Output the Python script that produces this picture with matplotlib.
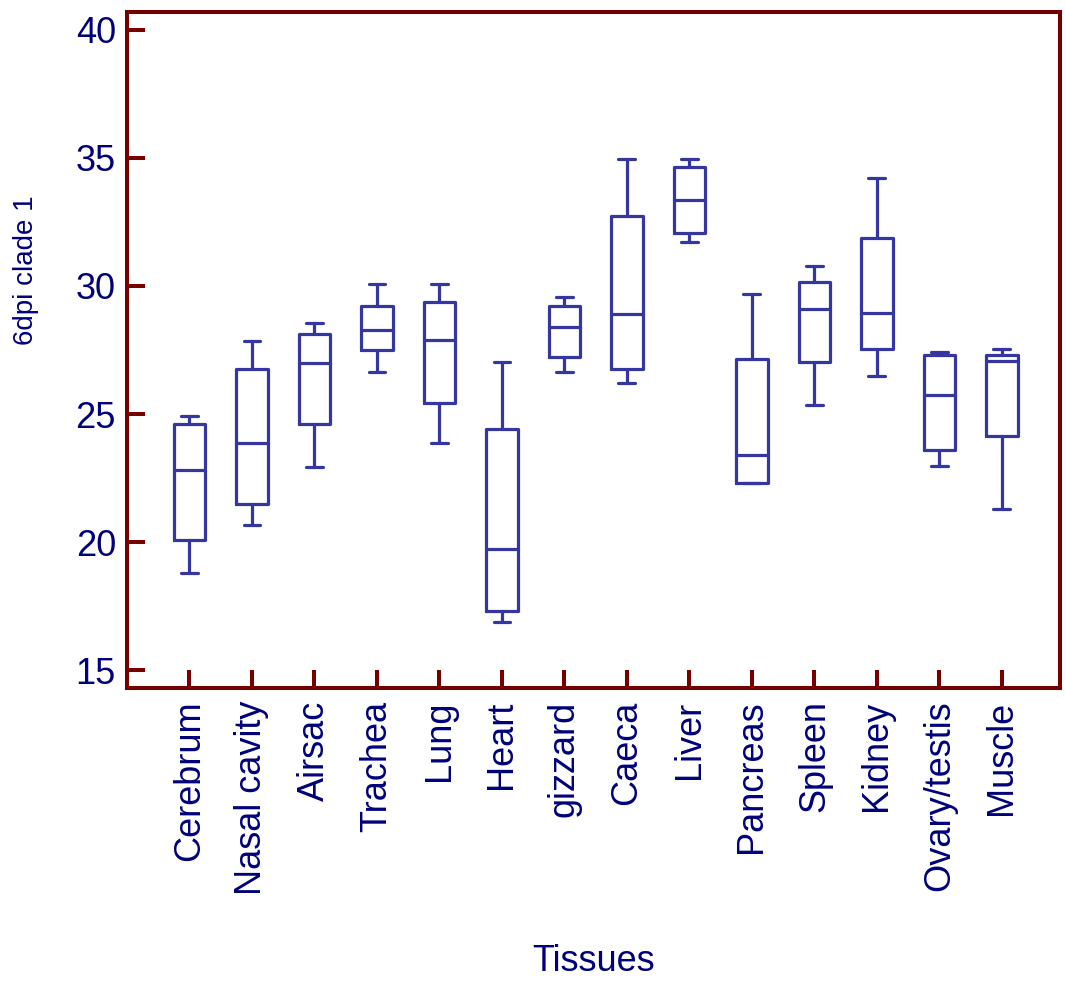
import matplotlib
matplotlib.use("Agg")
import matplotlib.pyplot as plt

plt.rcParams['font.family'] = ['Liberation Sans', 'DejaVu Sans']

tissues = ["Cerebrum", "Nasal cavity", "Airsac", "Trachea", "Lung", "Heart",
           "gizzard", "Caeca", "Liver", "Pancreas", "Spleen", "Kidney",
           "Ovary/testis", "Muscle"]
whisker_low = [18.79, 20.68, 22.93, 26.65, 23.88, 16.89, 26.65, 26.22, 31.73, 22.32, 25.35, 26.50, 22.98, 21.29]
quartile1 = [20.08, 21.48, 24.60, 27.50, 25.42, 17.30, 27.24, 26.77, 32.08, 22.32, 27.02, 27.53, 23.59, 24.14]
medians = [22.80, 23.85, 27.00, 28.28, 27.88, 19.71, 28.40, 28.89, 33.36, 23.40, 29.09, 28.95, 25.74, 27.06]
quartile3 = [24.60, 26.74, 28.12, 29.22, 29.36, 24.40, 29.23, 32.73, 34.63, 27.14, 30.17, 31.86, 27.32, 27.32]
whisker_high = [24.93, 27.86, 28.55, 30.09, 30.09, 27.04, 29.56, 34.97, 34.97, 29.69, 30.78, 34.23, 27.41, 27.53]
yticks = [15, 20, 25, 30, 35, 40]

box_color = "#3636A0"
frame_color = "#760000"
text_color = "#00007A"

stats = []
for name, lo, q1, med, q3, hi in zip(tissues, whisker_low, quartile1, medians, quartile3, whisker_high):
    stats.append({"label": name, "whislo": lo, "q1": q1, "med": med,
                  "q3": q3, "whishi": hi, "fliers": []})

fig = plt.figure(figsize=(10.65, 9.82), dpi=100)
ax = fig.add_axes([127 / 1065, 1 - 688 / 982, 933 / 1065, 676 / 982])

positions = list(range(1, len(tissues) + 1))
line_kw = dict(color=box_color, linewidth=2.3, solid_capstyle="round", solid_joinstyle="round")
ax.bxp(stats, positions=positions, widths=0.5, capwidths=0.27, showfliers=False,
       boxprops=line_kw, whiskerprops=line_kw, capprops=line_kw, medianprops=line_kw)

ax.set_xlim(0, 14.93)
ax.set_ylim(14.3, 40.7)
ax.set_yticks(yticks)
ax.set_xticks(positions)
ax.set_xticklabels(tissues, rotation=90, va="top", ha="center")

for sp in ax.spines.values():
    sp.set_color(frame_color)
    sp.set_linewidth(2.9)

ax.tick_params(axis="both", direction="in", length=13, width=2.9, color=frame_color,
               labelcolor=text_color, labelsize=26)
ax.tick_params(axis="x", pad=9)
ax.tick_params(axis="y", pad=8)

ax.set_xlabel("Tissues", fontsize=26, color=text_color)
ax.set_ylabel("6dpi clade 1", fontsize=20, color=text_color)
ax.xaxis.set_label_coords(0.5, -0.405)
ax.xaxis.label.set_va("center")
ax.yaxis.set_label_coords(-0.108, 0.618)
ax.yaxis.label.set_va("center")

fig.savefig("out.png", dpi=100)
